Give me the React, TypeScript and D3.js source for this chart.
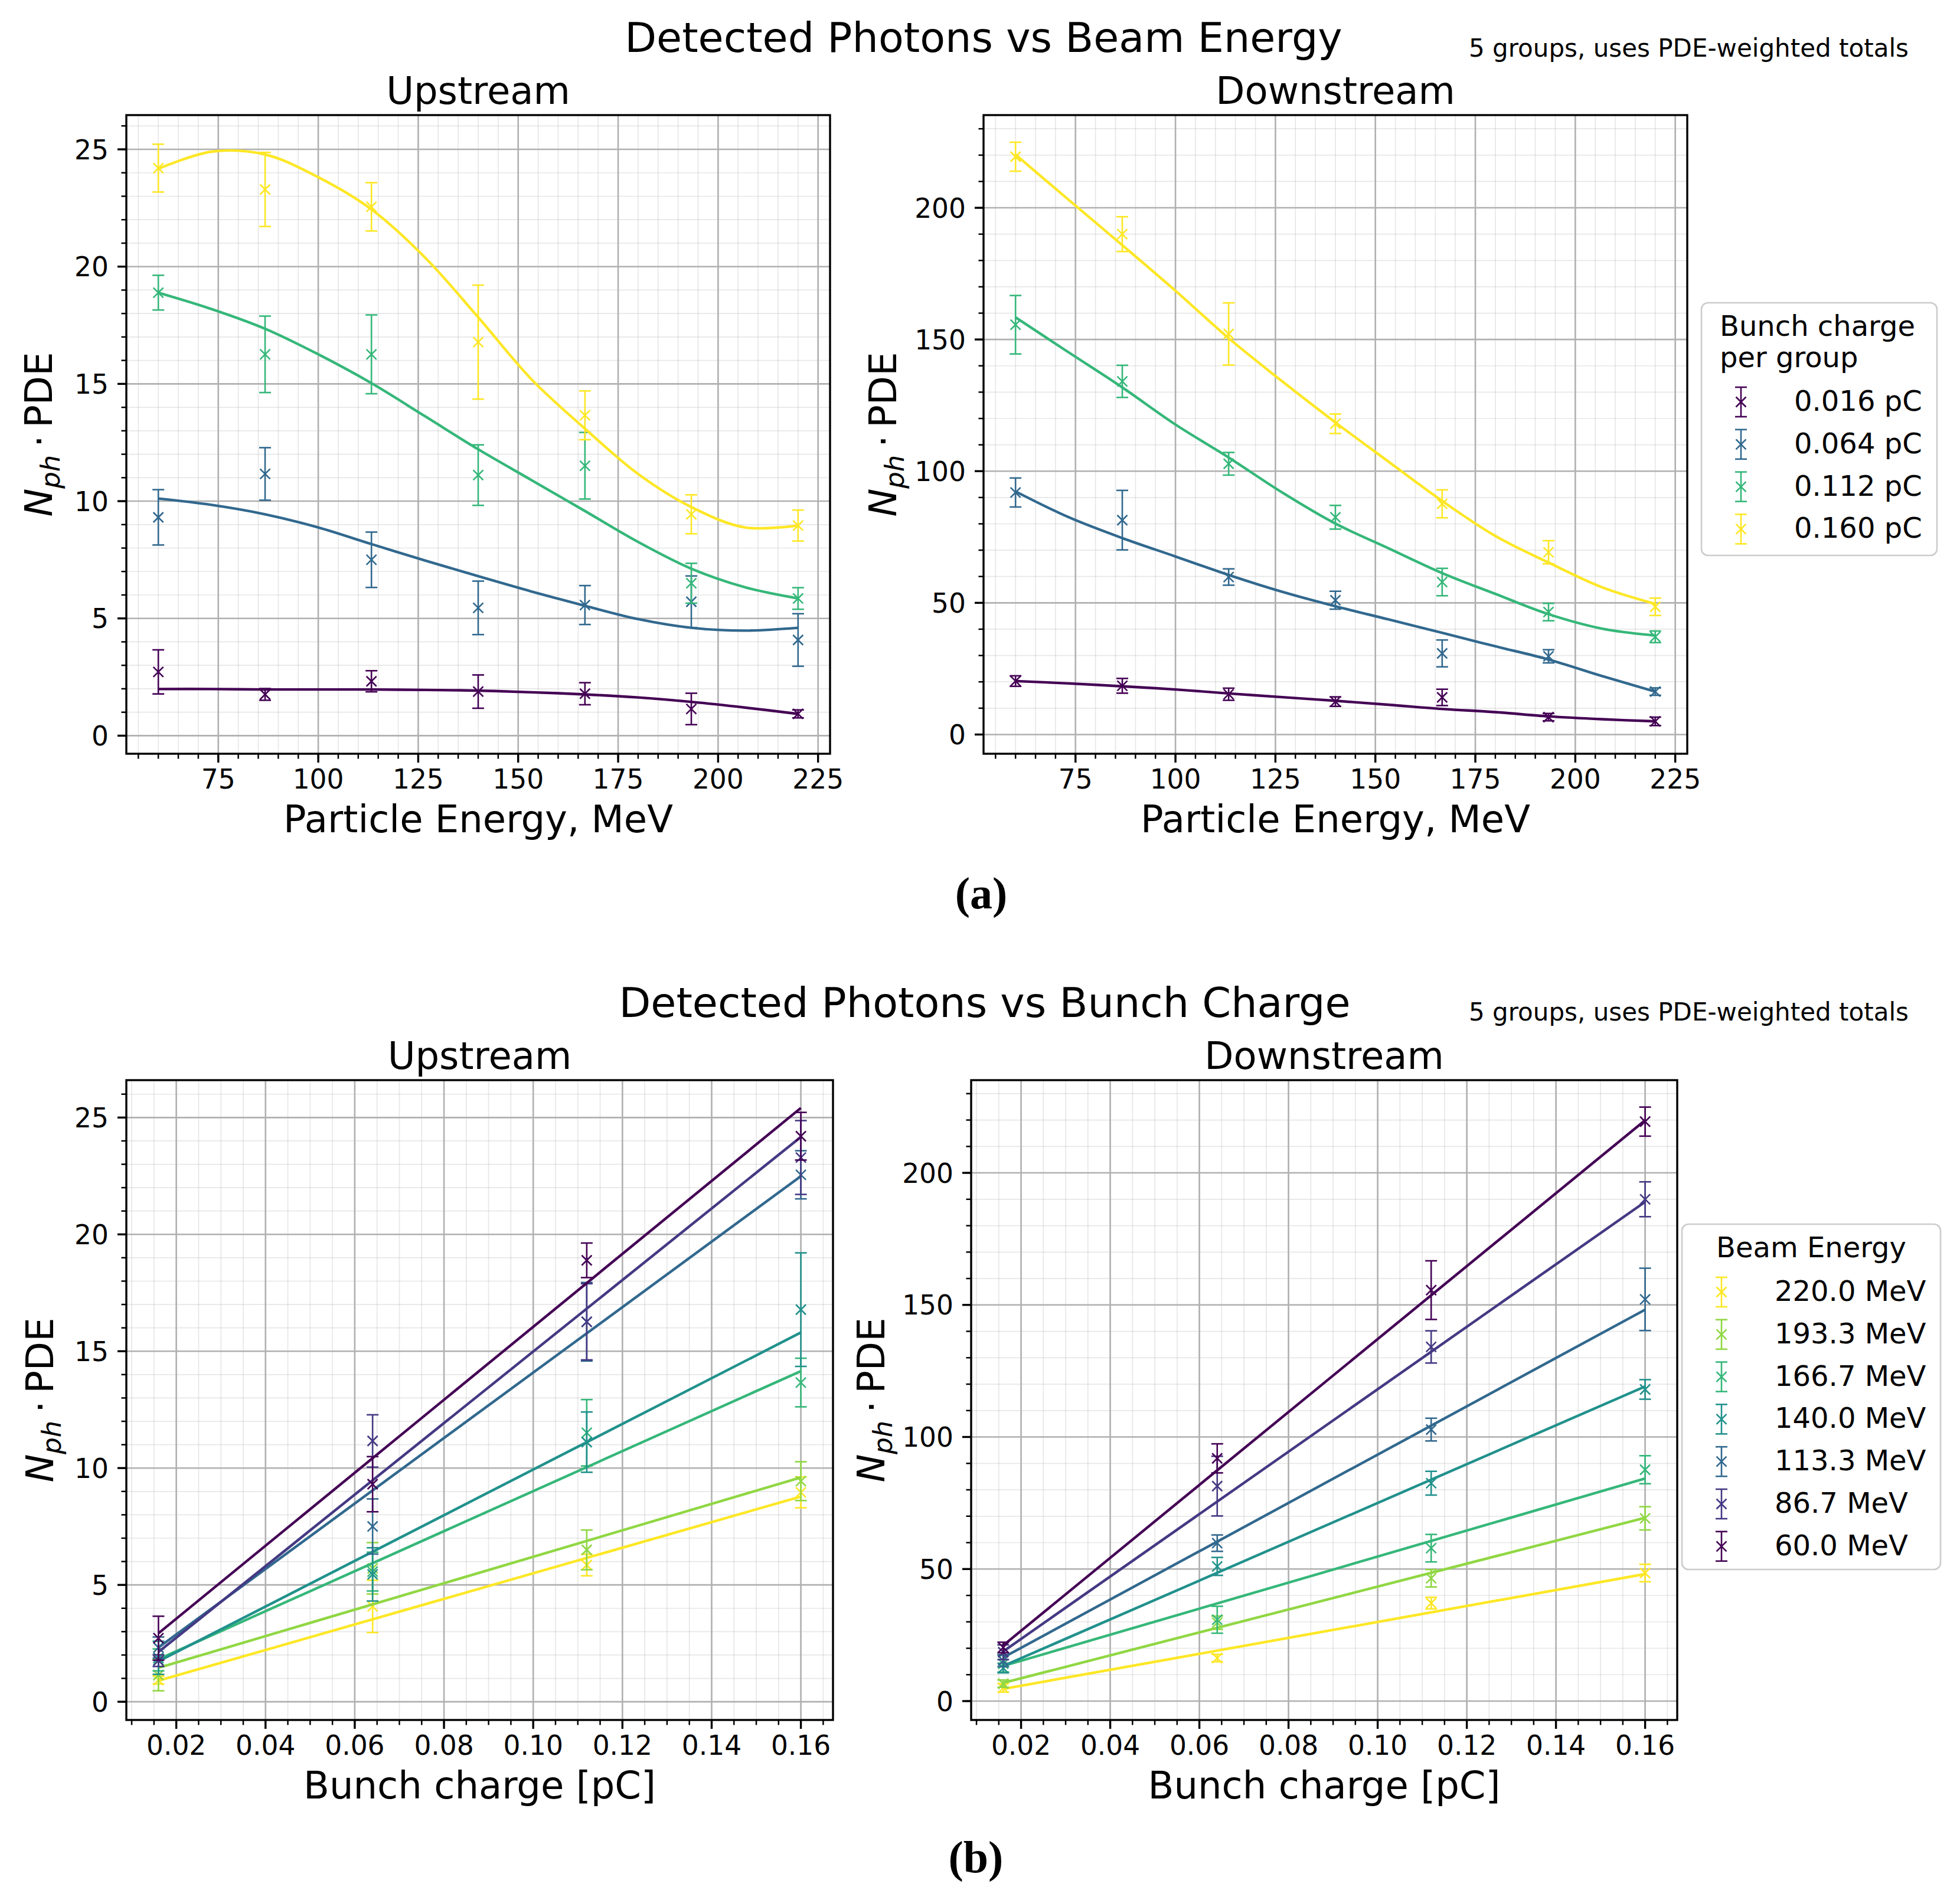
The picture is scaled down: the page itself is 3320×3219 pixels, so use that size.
import React from "react";
import * as d3 from "d3";

// beam energies (MeV) and bunch charges (pC)
const energies = [60, 86.7, 113.3, 140, 166.7, 193.3, 220];
const charges = [0.016, 0.064, 0.112, 0.16];
const chargeLabels = ["0.016 pC", "0.064 pC", "0.112 pC", "0.160 pC"];
const energyLabels = ["60.0 MeV", "86.7 MeV", "113.3 MeV", "140.0 MeV", "166.7 MeV", "193.3 MeV", "220.0 MeV"];

// N_ph * PDE, rows = bunch charge, columns = energy
const upstream = [
  [2.72, 1.76, 2.32, 1.88, 1.79, 1.14, 0.93],
  [9.31, 11.16, 7.5, 5.45, 5.57, 5.71, 4.08],
  [18.89, 16.26, 16.26, 11.11, 11.51, 6.5, 5.85],
  [24.2, 23.29, 22.55, 16.78, 13.66, 9.44, 8.96],
];
const upstreamErr = [
  [0.94, 0.25, 0.45, 0.71, 0.47, 0.67, 0.17],
  [1.18, 1.12, 1.18, 1.14, 0.83, 1.1, 1.12],
  [0.74, 1.63, 1.68, 1.29, 1.42, 0.85, 0.46],
  [1.02, 1.58, 1.03, 2.43, 1.04, 0.83, 0.66],
];
const downstream = [
  [20.3, 18.5, 15.3, 12.5, 14.1, 6.6, 5.0],
  [91.9, 81.4, 59.8, 51.0, 30.8, 29.7, 16.3],
  [155.6, 134.1, 102.8, 82.5, 57.9, 46.5, 37.1],
  [219.4, 190.0, 152.1, 118.0, 87.6, 69.2, 48.5],
];
const downstreamErr = [
  [2.0, 2.8, 2.3, 1.8, 3.1, 1.4, 1.6],
  [5.5, 11.3, 3.1, 3.4, 5.1, 2.5, 1.4],
  [11.1, 6.1, 4.3, 4.5, 5.2, 3.3, 2.2],
  [5.5, 6.6, 11.8, 3.7, 5.3, 4.4, 3.3],
];

// smooth fits vs energy
const fitEnergies = [60, 73.3, 86.7, 100, 113.3, 126.7, 140, 153.3, 166.7, 180, 193.3, 206.7, 220];
const upstreamEnergyFit = [
  [1.99, 1.99, 1.97, 1.97, 1.97, 1.95, 1.92, 1.85, 1.76, 1.63, 1.44, 1.2, 0.93],
  [10.11, 9.84, 9.44, 8.88, 8.17, 7.47, 6.8, 6.15, 5.54, 4.97, 4.6, 4.48, 4.6],
  [18.89, 18.19, 17.35, 16.26, 15.03, 13.62, 12.21, 10.9, 9.58, 8.26, 7.12, 6.33, 5.85],
  [24.17, 24.9, 24.78, 23.81, 22.44, 20.39, 17.84, 15.2, 13.09, 11.16, 9.75, 8.88, 8.96],
];
const downstreamEnergyFit = [
  [20.3, 19.4, 18.3, 17.1, 15.6, 14.2, 12.8, 11.3, 9.7, 8.5, 6.9, 5.8, 5.0],
  [92.3, 82.5, 74.6, 67.6, 60.6, 54.2, 48.7, 43.7, 38.6, 33.5, 28.5, 22.2, 16.3],
  [158.4, 145.1, 131.8, 117.7, 105.2, 91.9, 80.1, 70.7, 61.3, 53.4, 45.7, 40.2, 37.6],
  [220.2, 203.0, 185.8, 168.5, 150.5, 134.1, 118.5, 103.6, 88.7, 75.4, 65.3, 55.9, 49.6],
];

// linear fits vs charge: value at first and last charge, per energy
const fitCharges = [0.016, 0.16];
const upstreamChargeFit = [
  [2.93, 25.41], [2.13, 24.17], [2.32, 22.49], [1.73, 15.8], [1.82, 14.15], [1.45, 9.6], [0.9, 8.78],
];
const downstreamChargeFit = [
  [21.1, 219.9], [18.8, 189.0], [16.5, 148.2], [13.3, 119.1], [13.3, 84.3], [6.9, 69.4], [4.6, 48.1],
];

const energyTicks = [75, 100, 125, 150, 175, 200, 225];
const chargeTicks = [0.02, 0.04, 0.06, 0.08, 0.1, 0.12, 0.14, 0.16];
const upTicks = [0, 5, 10, 15, 20, 25];
const downTicks = [0, 50, 100, 150, 200];

const chargeColors = ["#440154", "#31688e", "#35b779", "#fde725"];
const energyColors = ["#440154", "#443983", "#31688e", "#21918c", "#35b779", "#90d743", "#fde725"];

const FONT = "DejaVu Sans";

interface Series {
  color: string;
  xs: number[];
  ys: number[];
  errs: number[];
  fitX: number[];
  fitY: number[];
  curved: boolean;
}

interface PanelProps {
  left: number;
  right: number;
  top: number;
  bottom: number;
  xDomain: [number, number];
  yDomain: [number, number];
  xTicks: number[];
  xMinor: number;
  yTicks: number[];
  yMinor: number;
  xFormat: (v: number) => string;
  series: Series[];
  title: string;
  xLabel: string;
  yLabelOffset: number;
}

function minorRange(d: [number, number], step: number) {
  const k0 = Math.ceil(d[0] / step - 1e-9);
  const k1 = Math.floor(d[1] / step + 1e-9);
  return d3.range(k0, k1 + 1).map((k) => k * step);
}

function Panel(p: PanelProps) {
  const x = d3.scaleLinear().domain(p.xDomain).range([p.left, p.right]);
  const y = d3.scaleLinear().domain(p.yDomain).range([p.bottom, p.top]);
  const xm = minorRange(p.xDomain, p.xMinor);
  const ym = minorRange(p.yDomain, p.yMinor);
  const cx = (p.left + p.right) / 2;
  const cy = (p.top + p.bottom) / 2;
  const cap = 10;
  const mk = 8.5;

  return (
    <g>
      <rect x={p.left} y={p.top} width={p.right - p.left} height={p.bottom - p.top} fill="#fff" />
      {/* minor grid */}
      {xm.map((v) => (
        <line key={"xm" + v} x1={x(v)} x2={x(v)} y1={p.top} y2={p.bottom} stroke="#b0b0b0" strokeOpacity={0.3} strokeWidth={1.7} />
      ))}
      {ym.map((v) => (
        <line key={"ym" + v} x1={p.left} x2={p.right} y1={y(v)} y2={y(v)} stroke="#b0b0b0" strokeOpacity={0.3} strokeWidth={1.7} />
      ))}
      {/* major grid */}
      {p.xTicks.map((v) => (
        <line key={"xg" + v} x1={x(v)} x2={x(v)} y1={p.top} y2={p.bottom} stroke="#b0b0b0" strokeWidth={2.6} />
      ))}
      {p.yTicks.map((v) => (
        <line key={"yg" + v} x1={p.left} x2={p.right} y1={y(v)} y2={y(v)} stroke="#b0b0b0" strokeWidth={2.6} />
      ))}

      {p.series.map((s, si) => {
        const line = d3
          .line<number>()
          .x((_, i) => x(s.fitX[i]))
          .y((d) => y(d))
          .curve(s.curved ? d3.curveCatmullRom : d3.curveLinear);
        return (
          <g key={"s" + si}>
            {s.xs.map((xv, i) => {
              const px = x(xv);
              const py = y(s.ys[i]);
              const y0 = y(s.ys[i] - s.errs[i]);
              const y1 = y(s.ys[i] + s.errs[i]);
              return (
                <g key={i} stroke={s.color} strokeWidth={2.6} fill="none">
                  <line x1={px} x2={px} y1={y0} y2={y1} />
                  <line x1={px - cap} x2={px + cap} y1={y0} y2={y0} />
                  <line x1={px - cap} x2={px + cap} y1={y1} y2={y1} />
                  <line x1={px - mk} x2={px + mk} y1={py - mk} y2={py + mk} />
                  <line x1={px - mk} x2={px + mk} y1={py + mk} y2={py - mk} />
                </g>
              );
            })}
            <path d={line(s.fitY) || ""} fill="none" stroke={s.color} strokeWidth={4.4} strokeLinejoin="round" />
          </g>
        );
      })}

      {/* spines */}
      <rect x={p.left} y={p.top} width={p.right - p.left} height={p.bottom - p.top} fill="none" stroke="#000" strokeWidth={3.4} />

      {/* ticks */}
      {xm.map((v) => (
        <line key={"xmt" + v} x1={x(v)} x2={x(v)} y1={p.bottom} y2={p.bottom + 8.5} stroke="#000" strokeWidth={2.5} />
      ))}
      {ym.map((v) => (
        <line key={"ymt" + v} x1={p.left} x2={p.left - 8.5} y1={y(v)} y2={y(v)} stroke="#000" strokeWidth={2.5} />
      ))}
      {p.xTicks.map((v) => (
        <g key={"xt" + v}>
          <line x1={x(v)} x2={x(v)} y1={p.bottom} y2={p.bottom + 15} stroke="#000" strokeWidth={3.4} />
          <text x={x(v)} y={p.bottom + 59} textAnchor="middle" fontSize={45.5} fontFamily={FONT}>
            {p.xFormat(v)}
          </text>
        </g>
      ))}
      {p.yTicks.map((v) => (
        <g key={"yt" + v}>
          <line x1={p.left} x2={p.left - 15} y1={y(v)} y2={y(v)} stroke="#000" strokeWidth={3.4} />
          <text x={p.left - 30} y={y(v) + 16.5} textAnchor="end" fontSize={45.5} fontFamily={FONT}>
            {v}
          </text>
        </g>
      ))}

      <text x={cx} y={p.top - 19} textAnchor="middle" fontSize={64} fontFamily={FONT}>
        {p.title}
      </text>
      <text x={cx} y={p.bottom + 133} textAnchor="middle" fontSize={64} fontFamily={FONT}>
        {p.xLabel}
      </text>
      <text
        transform={`translate(${p.left - p.yLabelOffset},${cy}) rotate(-90)`}
        textAnchor="middle"
        fontSize={64}
        fontFamily={FONT}
      >
        <tspan fontStyle="italic">N</tspan>
        <tspan fontStyle="italic" fontSize={45} dy={13}>ph</tspan>
        <tspan dy={-13}>{"\u2009\u00b7\u2009PDE"}</tspan>
      </text>
    </g>
  );
}

interface LegendProps {
  left: number;
  right: number;
  top: number;
  bottom: number;
  titleLines: string[];
  titleX: number;
  titleAnchor: "start" | "middle";
  entries: { label: string; color: string }[];
}

function Legend(l: LegendProps) {
  const firstBase = l.top + 58 + (l.titleLines.length - 1) * 53 + 72;
  return (
    <g fontFamily={FONT}>
      <rect
        x={l.left}
        y={l.top}
        width={l.right - l.left}
        height={l.bottom - l.top}
        rx={11}
        fill="#fff"
        fillOpacity={0.8}
        stroke="#cccccc"
        strokeWidth={2.6}
      />
      {l.titleLines.map((t, i) => (
        <text key={t} x={l.titleX} y={l.top + 56 + i * 53} textAnchor={l.titleAnchor} fontSize={48}>
          {t}
        </text>
      ))}
      {l.entries.map((e, i) => {
        const base = firstBase + i * 71.8;
        const hx = l.left + 67;
        const hy = base - 15;
        return (
          <g key={e.label}>
            <g stroke={e.color} strokeWidth={2.6}>
              <line x1={hx} x2={hx} y1={hy - 25} y2={hy + 25} />
              <line x1={hx - 10} x2={hx + 10} y1={hy - 25} y2={hy - 25} />
              <line x1={hx - 10} x2={hx + 10} y1={hy + 25} y2={hy + 25} />
              <line x1={hx - 8.5} x2={hx + 8.5} y1={hy - 8.5} y2={hy + 8.5} />
              <line x1={hx - 8.5} x2={hx + 8.5} y1={hy + 8.5} y2={hy - 8.5} />
            </g>
            <text x={l.left + 157} y={base} fontSize={48}>
              {e.label}
            </text>
          </g>
        );
      })}
    </g>
  );
}

const fmt2 = d3.format(".2f");
const fmtInt = (v: number) => String(v);

export default function App() {
  const seriesA = (vals: number[][], errs: number[][], fits: number[][]): Series[] =>
    charges.map((_, ci) => ({
      color: chargeColors[ci],
      xs: energies,
      ys: vals[ci],
      errs: errs[ci],
      fitX: fitEnergies,
      fitY: fits[ci],
      curved: true,
    }));
  const seriesB = (vals: number[][], errs: number[][], fits: number[][]): Series[] =>
    energies
      .map((_, ei) => ({
        color: energyColors[ei],
        xs: charges,
        ys: vals.map((r) => r[ei]),
        errs: errs.map((r) => r[ei]),
        fitX: fitCharges,
        fitY: fits[ei],
        curved: false,
      }))
      .reverse();

  const energyLegend = energies.map((_, ei) => ({ label: energyLabels[ei], color: energyColors[ei] })).reverse();
  const chargeLegend = charges.map((_, ci) => ({ label: chargeLabels[ci], color: chargeColors[ci] }));

  return (
    <svg
      width={3320}
      height={3219}
      viewBox="0 0 3320 3219"
      style={{ position: "absolute", left: 0, top: 0, display: "block" }}
    >
      <rect width={3320} height={3219} fill="#fff" />

      {/* (a) */}
      <text x={1666} y={88} textAnchor="middle" fontSize={70} fontFamily={FONT}>
        Detected Photons vs Beam Energy
      </text>
      <text x={2488} y={96} fontSize={42} fontFamily={FONT}>
        5 groups, uses PDE-weighted totals
      </text>
      <Panel
        left={214}
        right={1406}
        top={195}
        bottom={1277}
        xDomain={[52, 228]}
        yDomain={[-0.77, 26.46]}
        xTicks={energyTicks}
        xMinor={5}
        yTicks={upTicks}
        yMinor={1}
        xFormat={fmtInt}
        series={seriesA(upstream, upstreamErr, upstreamEnergyFit)}
        title="Upstream"
        xLabel="Particle Energy, MeV"
        yLabelOffset={126}
      />
      <Panel
        left={1666}
        right={2858}
        top={195}
        bottom={1277}
        xDomain={[52, 228]}
        yDomain={[-7.3, 235.2]}
        xTicks={energyTicks}
        xMinor={5}
        yTicks={downTicks}
        yMinor={10}
        xFormat={fmtInt}
        series={seriesA(downstream, downstreamErr, downstreamEnergyFit)}
        title="Downstream"
        xLabel="Particle Energy, MeV"
        yLabelOffset={148}
      />
      <Legend
        left={2882}
        right={3281}
        top={513}
        bottom={941}
        titleLines={["Bunch charge", "per group"]}
        titleX={2913}
        titleAnchor="start"
        entries={chargeLegend}
      />
      <text x={1662} y={1539} textAnchor="middle" fontSize={76} fontWeight="bold" fontFamily="Liberation Serif">
        (a)
      </text>

      {/* (b) */}
      <text x={1668} y={1723} textAnchor="middle" fontSize={70} fontFamily={FONT}>
        Detected Photons vs Bunch Charge
      </text>
      <text x={2488} y={1729} fontSize={42} fontFamily={FONT}>
        5 groups, uses PDE-weighted totals
      </text>
      <Panel
        left={214}
        right={1411}
        top={1830}
        bottom={2914}
        xDomain={[0.0088, 0.1672]}
        yDomain={[-0.78, 26.6]}
        xTicks={chargeTicks}
        xMinor={0.005}
        yTicks={upTicks}
        yMinor={1}
        xFormat={fmt2}
        series={seriesB(upstream, upstreamErr, upstreamChargeFit)}
        title="Upstream"
        xLabel="Bunch charge [pC]"
        yLabelOffset={124}
      />
      <Panel
        left={1645}
        right={2841}
        top={1830}
        bottom={2914}
        xDomain={[0.0088, 0.1672]}
        yDomain={[-7.15, 235.1]}
        xTicks={chargeTicks}
        xMinor={0.005}
        yTicks={downTicks}
        yMinor={10}
        xFormat={fmt2}
        series={seriesB(downstream, downstreamErr, downstreamChargeFit)}
        title="Downstream"
        xLabel="Bunch charge [pC]"
        yLabelOffset={147}
      />
      <Legend
        left={2849}
        right={3287}
        top={2074}
        bottom={2659}
        titleLines={["Beam Energy"]}
        titleX={3068}
        titleAnchor="middle"
        entries={energyLegend}
      />
      <text x={1653} y={3172} textAnchor="middle" fontSize={76} fontWeight="bold" fontFamily="Liberation Serif">
        (b)
      </text>
    </svg>
  );
}
